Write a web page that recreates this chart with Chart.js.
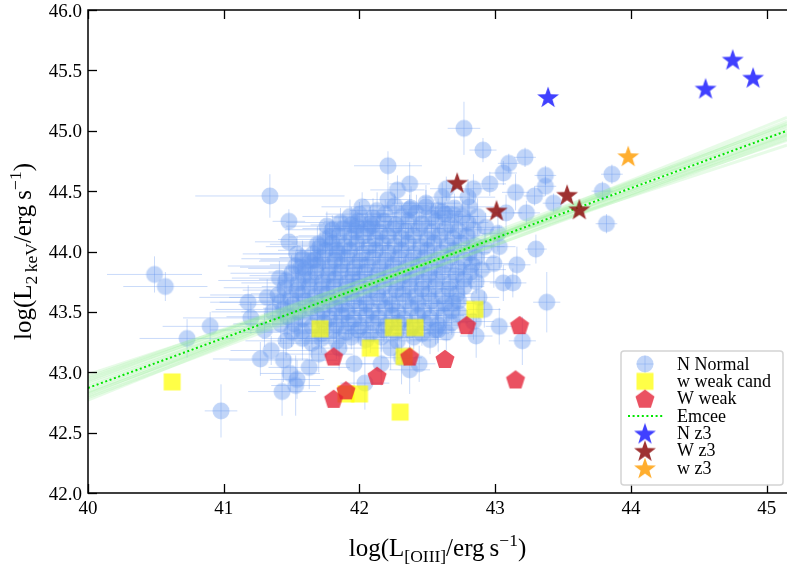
<!DOCTYPE html>
<html><head><meta charset="utf-8">
<script src="https://cdn.jsdelivr.net/npm/chart.js@4/dist/chart.umd.min.js"></script>
<style>html,body{margin:0;padding:0;background:#fff;overflow:hidden}#wrap{width:787px;height:567px}</style>
</head><body><div id="wrap"><canvas id="c" width="787" height="567"></canvas></div>
<script>
// ---------- data ----------
const xTicks = [40, 41, 42, 43, 44, 45];
const yTicks = [42.0, 42.5, 43.0, 43.5, 44.0, 44.5, 45.0, 45.5, 46.0];
const xRange = [40, 45.15];
const yRange = [42, 46];

// N Normal: [logL_OIII, logL_2keV, xerr, yerr]
const normalOuter = [
[41.34,44.46,.55,.18],[40.49,43.81,.35,.15],[40.57,43.71,.31,.12],[41.48,44.25,.12,.10],[41.48,44.08,.25,.12],
[41.54,43.98,.40,.15],[41.76,44.21,.30,.12],[41.98,44.21,.20,.10],[42.09,44.21,.22,.12],[41.69,44.06,.35,.15],
[41.78,44.12,.30,.12],[41.18,43.58,.28,.14],[41.20,43.45,.50,.13],[40.90,43.38,.35,.12],[40.73,43.28,.35,.16],
[40.98,42.68,.12,.22],[41.27,43.11,.35,.14],[41.35,43.18,.30,.12],[41.44,43.10,.40,.18],[41.54,42.94,.20,.16],
[41.43,42.84,.25,.20],[41.53,42.89,.18,.25],[41.63,43.04,.30,.18],[41.49,42.99,.22,.15],[42.77,45.02,.12,.22],
[42.91,44.84,.10,.10],[43.10,44.73,.08,.08],[43.22,44.78,.08,.08],[43.06,44.65,.10,.10],[43.37,44.63,.08,.08],
[43.37,44.54,.08,.08],[42.96,44.56,.12,.10],[43.15,44.49,.10,.15],[43.29,44.46,.08,.08],[43.43,44.40,.08,.08],
[42.84,44.52,.15,.12],[42.80,44.45,.20,.15],[42.81,44.37,.18,.12],[43.08,44.32,.12,.15],[43.23,44.32,.10,.10],
[42.87,44.29,.15,.15],[43.86,44.64,.08,.08],[43.79,44.50,.08,.08],[43.82,44.23,.08,.08],[43.30,44.02,.08,.12],
[43.16,43.89,.10,.15],[43.03,44.04,.12,.18],[42.99,43.90,.15,.20],[42.90,43.85,.18,.15],[43.06,43.74,.10,.15],
[43.13,43.74,.10,.12],[43.38,43.58,.10,.25],[43.03,43.38,.10,.15],[43.20,43.26,.10,.20],[42.93,44.20,.12,.12],
[43.02,44.15,.12,.15],[42.21,44.71,.25,.12],[42.37,44.56,.15,.18],[42.28,44.51,.20,.12],[42.21,44.43,.18,.15],
[42.49,44.40,.25,.15],[42.38,44.36,.20,.18],[42.61,44.45,.15,.12],[42.61,44.33,.15,.12],[42.70,44.30,.12,.12],
[42.64,44.52,.12,.10],[42.92,44.04,.15,.15],[41.67,43.93,.40,.15],[41.41,43.78,.35,.14],[41.57,43.87,.45,.16],
[41.83,44.01,.30,.14],[41.96,43.07,.15,.20],[42.04,42.91,.18,.22],[42.16,43.07,.15,.18],[42.37,43.02,.15,.20],
[42.44,43.07,.12,.15],[42.58,43.35,.10,.18],[42.69,43.57,.15,.15],[42.74,43.48,.12,.15],[42.23,43.20,.15,.18],
[41.70,43.15,.25,.15],[41.85,43.20,.20,.18],[42.31,43.12,.15,.22],[41.30,43.35,.40,.14],[41.36,43.50,.45,.12],
[41.32,43.62,.50,.15],[42.88,43.62,.15,.18],[42.92,43.52,.12,.15],[42.84,43.42,.15,.15],[42.86,43.30,.12,.18],
[41.42,43.40,.35,.15],[41.50,43.33,.40,.12],[41.58,43.28,.30,.18],[41.65,43.24,.25,.15],[41.46,43.26,.30,.14]
];
const normalCore = [
[42.02,44.37,.3,.12],[42.13,44.34,.2,.15],[42.26,44.38,.25,.1],[42.37,44.35,.15,.12],[42.49,44.37,.2,.14],[42.58,44.34,.12,.1],[42.70,44.36,.15,.12],
[41.93,44.29,.35,.14],[42.00,44.31,.25,.1],[42.10,44.28,.3,.16],[42.19,44.31,.2,.12],[42.31,44.29,.22,.1],[42.42,44.32,.18,.15],[42.53,44.28,.2,.12],[42.63,44.31,.15,.1],[42.76,44.29,.12,.14],
[41.86,44.24,.4,.12],[41.94,44.22,.3,.15],[41.99,44.25,.25,.1],[42.08,44.23,.35,.14],[42.18,44.25,.2,.12],[42.27,44.22,.28,.16],[42.36,44.25,.2,.1],[42.46,44.23,.15,.12],[42.56,44.25,.18,.14],[42.67,44.22,.12,.1],[42.80,44.24,.15,.15],
[41.80,44.18,.35,.12],[41.88,44.19,.3,.1],[41.97,44.17,.25,.16],[42.06,44.19,.3,.12],[42.15,44.16,.22,.14],[42.25,44.19,.2,.1],[42.34,44.17,.25,.12],[42.44,44.19,.18,.15],[42.53,44.16,.2,.1],[42.63,44.19,.15,.12],[42.73,44.17,.12,.14],[42.84,44.18,.15,.1],
[41.75,44.10,.35,.12],[41.85,44.13,.3,.16],[41.94,44.11,.28,.1],[42.03,44.13,.25,.12],[42.12,44.10,.3,.15],[42.21,44.13,.2,.12],[42.31,44.11,.22,.1],[42.40,44.13,.2,.14],[42.50,44.10,.15,.12],[42.59,44.13,.18,.1],[42.69,44.11,.15,.15],[42.79,44.13,.12,.12],
[41.71,44.04,.4,.15],[41.80,44.07,.3,.1],[41.89,44.05,.35,.14],[41.98,44.07,.25,.12],[42.07,44.04,.28,.16],[42.17,44.07,.2,.1],[42.26,44.05,.25,.12],[42.36,44.07,.18,.14],[42.45,44.04,.2,.1],[42.55,44.07,.15,.12],[42.65,44.05,.18,.15],[42.75,44.07,.12,.1],[42.85,44.05,.15,.12],
[41.66,43.98,.4,.12],[41.75,44.01,.35,.15],[41.84,43.99,.3,.1],[41.93,44.01,.28,.12],[42.02,43.98,.25,.16],[42.12,44.01,.3,.12],[42.21,43.99,.2,.1],[42.31,44.01,.22,.14],[42.40,43.98,.18,.12],[42.50,44.01,.2,.1],[42.60,43.99,.15,.15],[42.70,44.01,.12,.12],[42.81,43.99,.15,.1],
[41.58,43.94,.45,.15],[41.64,43.92,.38,.12],[41.73,43.95,.32,.1],[41.82,43.93,.3,.14],[41.91,43.95,.25,.12],[42.00,43.92,.3,.16],[42.10,43.95,.22,.1],[42.19,43.93,.25,.12],[42.29,43.95,.2,.14],[42.38,43.92,.18,.1],[42.48,43.95,.2,.12],[42.57,43.93,.15,.15],[42.67,43.95,.18,.1],[42.77,43.93,.12,.12],[42.86,43.95,.15,.14],
[41.53,43.88,.5,.12],[41.60,43.86,.42,.15],[41.69,43.89,.35,.1],[41.78,43.87,.3,.14],[41.87,43.89,.28,.12],[41.96,43.86,.25,.16],[42.06,43.89,.3,.1],[42.15,43.87,.2,.12],[42.25,43.89,.22,.14],[42.34,43.86,.2,.1],[42.44,43.89,.18,.12],[42.53,43.87,.15,.15],[42.63,43.89,.18,.1],[42.73,43.86,.12,.12],[42.83,43.89,.15,.14],
[41.50,43.82,.45,.15],[41.59,43.80,.4,.12],[41.68,43.83,.35,.1],[41.77,43.81,.32,.14],[41.86,43.83,.28,.12],[41.95,43.80,.3,.16],[42.04,43.83,.25,.1],[42.13,43.81,.22,.12],[42.23,43.83,.2,.14],[42.32,43.80,.25,.1],[42.42,43.83,.18,.12],[42.51,43.81,.2,.15],[42.61,43.83,.15,.1],[42.71,43.81,.12,.12],[42.82,43.83,.15,.14],
[41.46,43.76,.5,.12],[41.55,43.74,.42,.15],[41.64,43.77,.38,.1],[41.73,43.75,.3,.14],[41.82,43.77,.28,.12],[41.91,43.74,.3,.16],[42.00,43.77,.25,.1],[42.09,43.75,.22,.12],[42.19,43.77,.25,.14],[42.28,43.74,.2,.1],[42.38,43.77,.18,.12],[42.47,43.75,.2,.15],[42.57,43.77,.15,.1],[42.67,43.74,.18,.12],[42.77,43.77,.12,.14],[42.86,43.75,.15,.1],
[41.45,43.70,.45,.15],[41.54,43.68,.4,.12],[41.63,43.71,.35,.1],[41.72,43.69,.32,.14],[41.81,43.71,.3,.12],[41.90,43.68,.25,.16],[41.99,43.71,.28,.1],[42.08,43.69,.22,.12],[42.18,43.71,.2,.14],[42.27,43.68,.25,.1],[42.37,43.71,.18,.12],[42.46,43.69,.2,.15],[42.56,43.71,.15,.1],[42.66,43.69,.12,.12],[42.77,43.71,.15,.14],
[41.40,43.64,.5,.12],[41.49,43.62,.45,.15],[41.58,43.65,.38,.1],[41.67,43.63,.32,.14],[41.76,43.65,.3,.12],[41.85,43.62,.28,.16],[41.94,43.65,.25,.1],[42.03,43.63,.3,.12],[42.13,43.65,.22,.14],[42.22,43.62,.2,.1],[42.32,43.65,.25,.12],[42.41,43.63,.18,.15],[42.51,43.65,.2,.1],[42.61,43.63,.15,.12],[42.72,43.65,.12,.14],
[41.42,43.58,.45,.15],[41.51,43.56,.4,.12],[41.60,43.59,.35,.1],[41.69,43.57,.3,.14],[41.78,43.59,.28,.12],[41.87,43.56,.3,.16],[41.96,43.59,.25,.1],[42.05,43.57,.22,.12],[42.15,43.59,.2,.14],[42.24,43.56,.25,.1],[42.34,43.59,.18,.12],[42.43,43.57,.2,.15],[42.53,43.59,.15,.1],[42.63,43.57,.18,.12],[42.73,43.59,.12,.14],
[41.44,43.52,.5,.12],[41.55,43.50,.42,.15],[41.64,43.53,.35,.1],[41.73,43.51,.3,.14],[41.82,43.53,.28,.12],[41.91,43.50,.25,.16],[42.00,43.53,.3,.1],[42.09,43.51,.22,.12],[42.19,43.53,.2,.14],[42.28,43.50,.25,.1],[42.38,43.53,.18,.12],[42.47,43.51,.2,.15],[42.57,43.53,.15,.1],[42.68,43.51,.12,.12],
[41.47,43.46,.45,.15],[41.58,43.44,.4,.12],[41.69,43.47,.35,.1],[41.78,43.45,.3,.14],[41.87,43.47,.28,.12],[41.96,43.44,.3,.16],[42.05,43.47,.25,.1],[42.14,43.45,.22,.12],[42.24,43.47,.2,.14],[42.33,43.44,.25,.1],[42.43,43.47,.18,.12],[42.52,43.45,.2,.15],[42.62,43.47,.15,.1],
[41.52,43.40,.4,.12],[41.65,43.38,.35,.15],[41.74,43.41,.3,.1],[41.83,43.39,.28,.14],[41.92,43.41,.25,.12],[42.01,43.38,.3,.16],[42.10,43.41,.22,.1],[42.20,43.39,.2,.12],[42.29,43.41,.25,.14],[42.39,43.38,.18,.1],[42.48,43.41,.2,.12],[42.58,43.39,.15,.15],[42.68,43.41,.12,.1],
[41.58,43.34,.35,.15],[41.72,43.32,.3,.12],[41.81,43.35,.28,.1],[41.90,43.33,.25,.14],[41.99,43.35,.3,.12],[42.08,43.32,.22,.16],[42.18,43.35,.2,.1],[42.27,43.33,.25,.12],[42.37,43.35,.18,.14],[42.46,43.32,.2,.1],[42.56,43.35,.15,.12],[42.64,43.33,.12,.15],
[41.72,43.28,.3,.12],[41.83,43.26,.28,.15],[41.94,43.29,.25,.1],[42.05,43.27,.22,.14],[42.16,43.29,.2,.12],[42.28,43.26,.25,.16],[42.40,43.29,.18,.1],[42.52,43.27,.15,.12]
];
// w weak cand
const weakCand = [[40.62,42.92],[41.71,43.36],[42.25,43.37],[42.41,43.37],[42.85,43.52],[42.08,43.20],[42.33,43.13],[41.90,42.82],[42.00,42.82],[42.30,42.67]];
// W weak
const weak = [[41.81,43.13],[42.13,42.97],[42.37,43.13],[42.63,43.11],[42.79,43.39],[43.18,43.39],[43.15,42.94],[41.81,42.78],[41.90,42.85]];
// z3 samples
const nZ3 = [[43.39,45.28],[44.55,45.35],[44.75,45.59],[44.90,45.44]];
const bigWZ3 = [[42.72,44.57],[43.01,44.34],[43.53,44.47],[43.62,44.35]];
const smallWZ3 = [[43.98,44.79]];
// Emcee fit: y at x=40 and at x=45.15
const emceeBest = [42.87, 45.00];
const emceeSamples = [[42.95,44.92],[42.80,45.08],[42.90,44.97],[42.84,45.04],[42.98,44.88],[42.77,45.11],
  [42.92,44.95],[42.82,45.06],[42.88,45.02],[42.86,44.98],[42.93,45.05],[42.79,44.96],[42.96,45.00],[42.83,44.93]];

// ---------- markers ----------
const FONT = '"Liberation Serif", "Times New Roman", serif';
const C_NORMAL = 'rgba(100,149,237,0.40)';
const C_ERR = 'rgba(100,149,237,0.35)';
const C_YEL = 'rgba(255,255,0,0.72)';
const C_RED = 'rgba(228,32,52,0.78)';
const C_NZ3 = 'rgba(30,30,255,0.85)';
const C_WZ3 = 'rgba(145,20,20,0.88)';
const C_wZ3 = 'rgba(255,160,10,0.85)';

function mk(size, fn){const c=document.createElement('canvas');c.width=size;c.height=size;const g=c.getContext('2d');fn(g,size/2);return c;}
function poly(g,cx,cy,n,R,r){g.beginPath();const m=r?2*n:n;for(let i=0;i<m;i++){const rad=(r&&i%2)?r:R;const a=-Math.PI/2+i*Math.PI/(r?n:n/2);g.lineTo(cx+rad*Math.cos(a),cy+rad*Math.sin(a));}g.closePath();}
const imgCircle = mk(20,(g,h)=>{g.fillStyle=C_NORMAL;g.beginPath();g.arc(h,h,8.5,0,2*Math.PI);g.fill();});
const imgSquare = mk(20,(g,h)=>{g.fillStyle=C_YEL;g.fillRect(h-8.5,h-8.5,17,17);});
const imgPent = mk(22,(g,h)=>{g.fillStyle=C_RED;poly(g,h,h+0.8,5,10,0);g.fill();});
function starImg(col){return mk(26,(g,h)=>{g.fillStyle=col;poly(g,h,h+1,5,11.5,4.6);g.fill();});}
const imgNZ3=starImg(C_NZ3), imgWZ3=starImg(C_WZ3), imgwZ3=starImg(C_wZ3);

const pts = a => a.map(p=>({x:p[0], y:p[1]}));
const normal = normalOuter.concat(normalCore);

const datasets = [];
datasets.push({label:'N Normal', data:pts(normal), pointStyle:imgCircle, pointRadius:8.5, order:20});
emceeSamples.forEach((s,i)=>datasets.push({label:'sample'+i, data:[{x:xRange[0],y:s[0]},{x:xRange[1],y:s[1]}],
  showLine:true, borderColor:'rgba(144,238,144,0.22)', borderWidth:3, pointRadius:0, order:15}));
datasets.push({label:'w weak cand', data:pts(weakCand), pointStyle:imgSquare, pointRadius:8.5, order:8});
datasets.push({label:'W weak', data:pts(weak), pointStyle:imgPent, pointRadius:9, order:7});
datasets.push({label:'Emcee', data:[{x:xRange[0],y:emceeBest[0]},{x:xRange[1],y:emceeBest[1]}], showLine:true,
  borderColor:'#00e600', borderWidth:2, borderDash:[2,2.6], pointRadius:0, order:6});
datasets.push({label:'N z3', data:pts(nZ3), pointStyle:imgNZ3, pointRadius:10, order:3});
datasets.push({label:'W z3', data:pts(bigWZ3), pointStyle:imgWZ3, pointRadius:10, order:2});
datasets.push({label:'w z3', data:pts(smallWZ3), pointStyle:imgwZ3, pointRadius:10, order:1});

// ---------- plugins ----------
const errBars = {id:'errBars', beforeDatasetsDraw(chart){
  const {ctx, chartArea:a, scales:{x,y}} = chart;
  ctx.save(); ctx.beginPath(); ctx.rect(a.left,a.top,a.right-a.left,a.bottom-a.top); ctx.clip();
  ctx.strokeStyle = C_ERR; ctx.lineWidth = 1;
  for (const p of normal){
    const px=x.getPixelForValue(p[0]), py=y.getPixelForValue(p[1]);
    ctx.beginPath(); ctx.moveTo(x.getPixelForValue(p[0]-p[2]),py); ctx.lineTo(x.getPixelForValue(p[0]+p[2]),py); ctx.stroke();
    ctx.beginPath(); ctx.moveTo(px,y.getPixelForValue(p[1]-p[3])); ctx.lineTo(px,y.getPixelForValue(p[1]+p[3])); ctx.stroke();
  }
  ctx.restore();
}};

function richW(ctx,segs,size){let w=0;for(const s of segs){ctx.font=(s[1]?size*0.7:size)+'px '+FONT;w+=ctx.measureText(s[0]).width;}return w;}
function drawRich(ctx,segs,cx,cy,size,rot){
  ctx.save(); ctx.translate(cx,cy); if(rot) ctx.rotate(-Math.PI/2);
  const w=richW(ctx,segs,size); let x=-w/2;
  ctx.textAlign='left'; ctx.textBaseline='alphabetic'; ctx.fillStyle='#000';
  for(const s of segs){const sz=s[1]?size*0.7:size; ctx.font=sz+'px '+FONT;
    const dy = s[1]===1 ? size*0.24 : (s[1]===2 ? -size*0.40 : 0);
    ctx.fillText(s[0], x, size*0.32+dy); x+=ctx.measureText(s[0]).width;}
  ctx.restore();
}
const xTitle = [['log(L',0],['[OIII]',1],['/erg\u2009s',0],['\u22121',2],[')',0]];
const yTitle = [['log(L',0],['2\u2009keV',1],['/erg\u2009s',0],['\u22121',2],[')',0]];
const legendOrder = ['N Normal','w weak cand','W weak','Emcee','N z3','W z3','w z3'];

const frame = {id:'frame', afterDraw(chart){
  const {ctx, chartArea:a, scales:{x,y}} = chart;
  ctx.save();
  ctx.strokeStyle='#000'; ctx.lineWidth=1.5;
  ctx.beginPath(); ctx.moveTo(a.right+2,a.top); ctx.lineTo(a.left,a.top); ctx.lineTo(a.left,a.bottom); ctx.lineTo(a.right+2,a.bottom); ctx.stroke();
  ctx.lineWidth=1.3;
  for(const v of xTicks){const px=Math.round(x.getPixelForValue(v))+0.5; ctx.beginPath(); ctx.moveTo(px,a.bottom); ctx.lineTo(px,a.bottom-9); ctx.moveTo(px,a.top); ctx.lineTo(px,a.top+9); ctx.stroke();}
  for(const v of yTicks){const py=Math.round(y.getPixelForValue(v))+0.5; ctx.beginPath(); ctx.moveTo(a.left,py); ctx.lineTo(a.left+9,py); ctx.stroke();}
  // tick labels
  ctx.fillStyle='#000'; ctx.font='19px '+FONT; ctx.textBaseline='alphabetic';
  ctx.textAlign='center';
  for(const v of xTicks){ctx.fillText(String(v), x.getPixelForValue(v), a.bottom+21);}
  ctx.textAlign='right';
  for(const v of yTicks){ctx.fillText(v.toFixed(1), a.left-6, y.getPixelForValue(v)+6.5);}
  // titles
  drawRich(ctx, xTitle, (a.left+a.right)/2, 548, 25, false);
  drawRich(ctx, yTitle, 23, (a.top+a.bottom)/2, 25, true);
  // legend
  const L=621, T=351, W=162, H=134;
  ctx.beginPath(); ctx.roundRect(L,T,W,H,3); ctx.fillStyle='rgba(255,255,255,0.8)'; ctx.fill();
  ctx.strokeStyle='#d4d4d4'; ctx.lineWidth=1.5; ctx.stroke();
  const mx=645, tx=677;
  legendOrder.forEach((lab,i)=>{
    const ry = 364 + i*17.35;
    const ds = chart.data.datasets.find(d=>d.label===lab);
    if(lab==='Emcee'){ctx.save(); ctx.strokeStyle=ds.borderColor; ctx.lineWidth=2; ctx.setLineDash(ds.borderDash); ctx.beginPath(); ctx.moveTo(628,ry); ctx.lineTo(663,ry); ctx.stroke(); ctx.restore();}
    else {
      const im = ds.pointStyle; ctx.drawImage(im, mx-im.width/2, ry-im.height/2);
      if(lab==='N Normal'){ctx.strokeStyle=C_ERR; ctx.lineWidth=1; ctx.beginPath(); ctx.moveTo(mx-8.5,ry); ctx.lineTo(mx+8.5,ry); ctx.moveTo(mx,ry-8.5); ctx.lineTo(mx,ry+8.5); ctx.stroke();}
    }
    ctx.fillStyle='#000'; ctx.font='18px '+FONT; ctx.textAlign='left'; ctx.textBaseline='middle';
    ctx.fillText(lab, tx, ry+1);
  });
  ctx.restore();
}};

new Chart(document.getElementById('c'), {
  type:'scatter',
  data:{datasets},
  options:{
    responsive:false, animation:false, devicePixelRatio:1,
    layout:{autoPadding:false, padding:{top:10,right:0,left:0,bottom:0}},
    plugins:{legend:{display:false}, tooltip:{enabled:false}},
    events:[],
    scales:{
      x:{type:'linear', min:xRange[0], max:xRange[1],
         afterBuildTicks:s=>{s.ticks=xTicks.map(v=>({value:v}));},
         afterFit:s=>{s.height=74;},
         grid:{display:false}, border:{display:false}, ticks:{display:false}},
      y:{type:'linear', min:yRange[0], max:yRange[1],
         afterBuildTicks:s=>{s.ticks=yTicks.map(v=>({value:v}));},
         afterFit:s=>{s.width=88;},
         grid:{display:false}, border:{display:false}, ticks:{display:false}}
    }
  },
  plugins:[errBars, frame]
});
</script></body></html>
